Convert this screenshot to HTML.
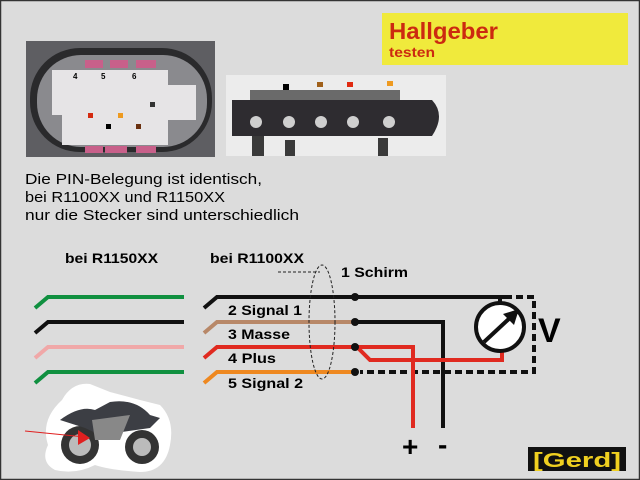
<!DOCTYPE html>
<html><head><meta charset="utf-8"><style>
html,body{margin:0;padding:0;background:#dcdcdc}
svg{display:block}
text{font-family:"Liberation Sans",Arial,sans-serif}
</style></head><body>
<svg width="640" height="480" viewBox="0 0 640 480" xmlns="http://www.w3.org/2000/svg">
<rect x="0" y="0" width="640" height="480" fill="#dcdcdc"/>
<rect x="0.5" y="0.5" width="639" height="479" fill="none" stroke="#333" stroke-width="1.5"/>
<!-- title -->
<rect x="382" y="13" width="246" height="52" fill="#f0ea3c"/>
<text x="389" y="39" font-size="23" font-weight="bold" fill="#cc2a10" textLength="109" lengthAdjust="spacingAndGlyphs">Hallgeber</text>
<text x="389" y="57" font-size="14" font-weight="bold" fill="#cc2a10" textLength="46" lengthAdjust="spacingAndGlyphs">testen</text>
<!-- photo 1 -->
<rect x="26" y="41" width="189" height="116" fill="#5e5e62"/>
<rect x="30" y="48" width="182" height="104" rx="50" fill="#2a2a2c"/>
<rect x="37" y="55" width="170" height="92" rx="44" fill="#8a8a8e"/>
<path d="M52 70 H168 V85 H196 V120 H168 V145 H62 V115 H52 Z" fill="#e6e4e6"/>
<rect x="85" y="60" width="18" height="8" fill="#c8608a"/><rect x="110" y="60" width="18" height="8" fill="#c8608a"/><rect x="136" y="60" width="20" height="8" fill="#c8608a"/>
<rect x="85" y="146" width="18" height="7" fill="#c8608a"/><rect x="105" y="146" width="22" height="7" fill="#c8608a"/><rect x="136" y="146" width="20" height="7" fill="#c8608a"/>
<rect x="88" y="113" width="5" height="5" fill="#d42a10"/><rect x="118" y="113" width="5" height="5" fill="#ee9a20"/><rect x="106" y="124" width="5" height="5" fill="#000"/><rect x="136" y="124" width="5" height="5" fill="#6a3010"/><rect x="150" y="102" width="5" height="5" fill="#333"/>
<text x="73" y="79" font-size="8" font-weight="bold">4</text><text x="101" y="79" font-size="8" font-weight="bold">5</text><text x="132" y="79" font-size="8" font-weight="bold">6</text>
<!-- photo 2 -->
<rect x="226" y="75" width="220" height="81" fill="#ececec"/>
<rect x="250" y="90" width="150" height="12" fill="#6a6a6a"/>
<path d="M232 100 H432 Q446 115 432 136 H232 Z" fill="#2e2c30"/>
<rect x="252" y="136" width="12" height="20" fill="#3a3a3a"/><rect x="285" y="140" width="10" height="16" fill="#3a3a3a"/><rect x="378" y="138" width="10" height="18" fill="#3a3a3a"/>
<g fill="#cfcfcf"><circle cx="256" cy="122" r="6"/><circle cx="289" cy="122" r="6"/><circle cx="321" cy="122" r="6"/><circle cx="353" cy="122" r="6"/><circle cx="389" cy="122" r="6"/></g>
<rect x="283" y="84" width="6" height="6" fill="#000"/><rect x="317" y="82" width="6" height="5" fill="#a0601a"/><rect x="347" y="82" width="6" height="5" fill="#e02a10"/><rect x="387" y="81" width="6" height="5" fill="#ee9a20"/>
<!-- text -->
<g font-size="15" fill="#000">
<text x="25" y="184" textLength="237" lengthAdjust="spacingAndGlyphs">Die PIN-Belegung ist identisch,</text>
<text x="25" y="202" textLength="200" lengthAdjust="spacingAndGlyphs">bei R1100XX und R1150XX</text>
<text x="25" y="220" textLength="274" lengthAdjust="spacingAndGlyphs">nur die Stecker sind unterschiedlich</text>
</g>
<g font-size="14" font-weight="bold" fill="#000">
<text x="65" y="263" textLength="93" lengthAdjust="spacingAndGlyphs">bei R1150XX</text>
<text x="210" y="263" textLength="94" lengthAdjust="spacingAndGlyphs">bei R1100XX</text>
<text x="341" y="277" textLength="67" lengthAdjust="spacingAndGlyphs">1 Schirm</text>
<text x="228" y="315" textLength="74" lengthAdjust="spacingAndGlyphs">2 Signal 1</text>
<text x="228" y="339" textLength="62" lengthAdjust="spacingAndGlyphs">3 Masse</text>
<text x="228" y="363" textLength="48" lengthAdjust="spacingAndGlyphs">4 Plus</text>
<text x="228" y="388" textLength="75" lengthAdjust="spacingAndGlyphs">5 Signal 2</text>
</g>
<!-- left wires -->
<g fill="none" stroke-width="4">
<path d="M35 308 L48 297 H184" stroke="#109040"/>
<path d="M35 333 L48 322 H184" stroke="#111"/>
<path d="M35 358 L48 347 H184" stroke="#f0a8a8"/>
<path d="M35 383 L48 372 H184" stroke="#109040"/>
<path d="M204 308 L217 297 H355" stroke="#111"/>
<path d="M204 333 L217 322 H355" stroke="#b88868"/>
<path d="M204 358 L217 347 H355" stroke="#e02a20"/>
<path d="M204 383 L217 372 H355" stroke="#ee8820"/>
<path d="M355 297 H505" stroke="#111"/>
<path d="M505 297 H534 V372 H360" stroke="#111" stroke-dasharray="7,4"/>
<path d="M355 322 H443 V428" stroke="#111"/>
<path d="M355 347 H413 V428" stroke="#e02a20"/>
<path d="M357 347 L370 360 H502 V350" stroke="#e02a20"/>
<path d="M500 297 V303" stroke="#111"/>
</g>
<g fill="#111"><circle cx="355" cy="297" r="4"/><circle cx="355" cy="322" r="4"/><circle cx="355" cy="347" r="4"/><circle cx="355" cy="372" r="4"/></g>
<circle cx="500" cy="327" r="24" fill="#fff" stroke="#111" stroke-width="4"/>
<path d="M484 342 L512 316" stroke="#111" stroke-width="4"/>
<path d="M519 309 L503 314 L514 325 Z" fill="#111"/>
<text x="538" y="342" font-size="34" font-weight="bold">V</text>
<text x="402" y="456" font-size="28" font-weight="bold">+</text>
<text x="438" y="454" font-size="28" font-weight="bold">-</text>
<ellipse cx="322" cy="322" rx="13" ry="57" fill="none" stroke="#222" stroke-width="1" stroke-dasharray="3,2"/>
<path d="M278 272 H320" stroke="#222" stroke-width="1" stroke-dasharray="3,2"/>
<!-- logo -->
<rect x="528" y="447" width="98" height="24" fill="#111"/>
<text x="533" y="467" font-size="20" font-weight="bold" fill="#f0d020" textLength="88" lengthAdjust="spacingAndGlyphs">[Gerd]</text>
<!-- motorbike -->
<path d="M48 445 Q40 420 62 400 Q72 382 90 384 L110 392 L140 400 L160 405 Q175 420 170 445 Q165 472 140 472 Q110 470 95 465 Q75 475 55 470 Q40 462 48 445 Z" fill="#fff"/>
<circle cx="80" cy="445" r="19" fill="#333"/><circle cx="80" cy="445" r="11" fill="#bbb"/>
<circle cx="142" cy="447" r="17" fill="#333"/><circle cx="142" cy="447" r="9" fill="#bbb"/>
<path d="M60 420 Q80 405 95 410 L110 402 Q135 398 150 415 L160 418 L150 428 L100 435 L85 428 Z" fill="#3c3e44"/>
<path d="M92 420 L130 415 L120 440 L95 440 Z" fill="#888"/>
<path d="M25 431 L85 437" stroke="#e02020" stroke-width="1"/>
<path d="M78 430 L90 438 L78 445 Z" fill="#e02020"/>
</svg>
</body></html>
